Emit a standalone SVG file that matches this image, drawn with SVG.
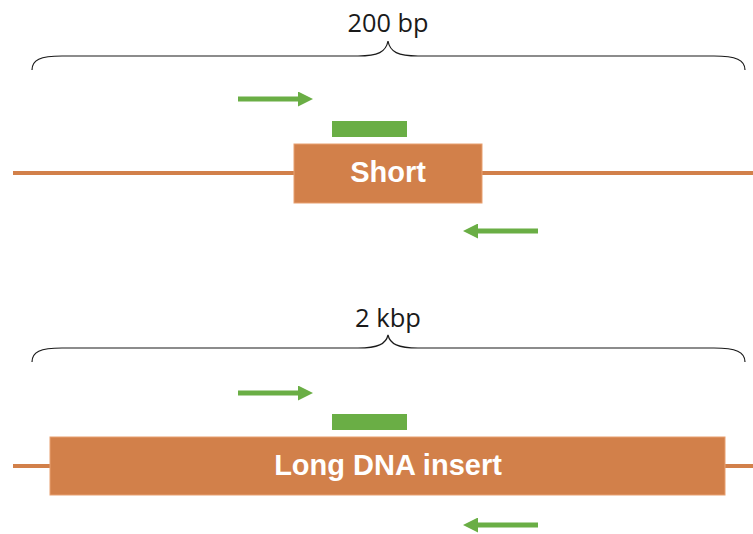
<svg xmlns="http://www.w3.org/2000/svg" width="753" height="534" viewBox="0 0 753 534">
<style>
.brace{fill:none;stroke:#1a1a1a;stroke-width:1.2}
.dna{stroke:#D2804A;stroke-width:4}
.box{fill:#D2804A;stroke:#E8A070;stroke-width:1}
.lbl{font-family:"Open Sans","Noto Sans",sans-serif;font-size:26px;fill:#1a1a1a;text-anchor:middle}
.in{font-family:"Liberation Sans",Arial,sans-serif;font-weight:bold;font-size:29px;fill:#fff;text-anchor:middle}
.probe{fill:#6AAE45}
.prim{stroke:#6AAE45;stroke-width:5}
</style>
<defs>
<marker id="ah" viewBox="0 0 10 10" refX="0" refY="5" markerWidth="15" markerHeight="15" markerUnits="userSpaceOnUse" orient="auto">
<path d="M0,0 L10,5 L0,10 Z" fill="#6AAE45"/>
</marker>
</defs>
<g id="short-construct">
<path class="brace" d="M32,70 C32,60 40,56 62,56 L358,56 C378,56 386,52 388,41 C390,52 398,56 418,56 L714,56 C736,56 745,60 745,70"/>
<text class="lbl" x="388" y="32" textLength="81" lengthAdjust="spacingAndGlyphs">200 bp</text>
<line class="dna" x1="13" y1="173" x2="753" y2="173"/>
<g id="short-insert">
<rect class="box" x="294" y="144" width="188" height="59"/>
<text class="in" x="388" y="182">Short</text>
</g>
<rect id="short-probe" class="probe" x="332" y="121" width="75" height="16"/>
</g>
<g id="long-construct">
<path class="brace" d="M32,362 C32,352 40,348 62,348 L358,348 C378,348 386,344 388,335 C390,344 398,348 418,348 L714,348 C736,348 745,352 745,362"/>
<text class="lbl" x="388" y="327" textLength="66" lengthAdjust="spacingAndGlyphs">2 kbp</text>
<line class="dna" x1="13" y1="466" x2="753" y2="466"/>
<g id="long-insert">
<rect class="box" x="50" y="437" width="675" height="58"/>
<text class="in" x="388" y="475">Long DNA insert</text>
</g>
<rect id="long-probe" class="probe" x="332" y="414" width="75" height="16"/>
</g>
<g id="primers">
<line class="prim" x1="238" y1="99" x2="298" y2="99" marker-end="url(#ah)"/>
<line class="prim" x1="538" y1="231" x2="478" y2="231" marker-end="url(#ah)"/>
<line class="prim" x1="238" y1="393" x2="298" y2="393" marker-end="url(#ah)"/>
<line class="prim" x1="538" y1="525" x2="478" y2="525" marker-end="url(#ah)"/>
</g>
</svg>
